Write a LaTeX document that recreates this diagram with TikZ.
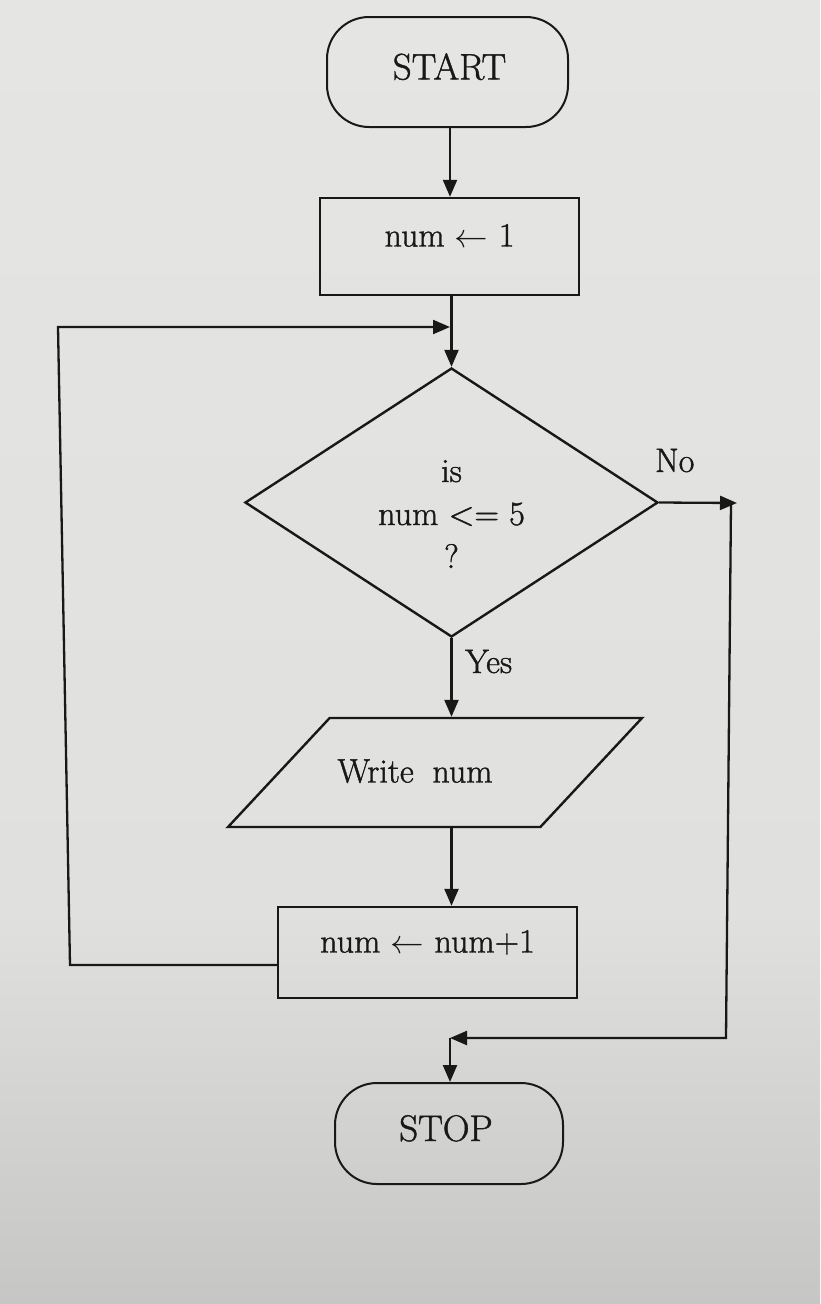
\documentclass[tikz,border=0pt]{standalone}
\usepackage{fontspec}
\usepackage{graphicx}
\setmainfont{Latin Modern Roman}[FakeBold=1.2]
\usetikzlibrary{shapes.geometric,arrows.meta}
\definecolor{ink}{RGB}{24,24,24}
\definecolor{bgtop}{RGB}{229,229,227}
\definecolor{bgmid}{RGB}{224,224,222}
\definecolor{bgbot}{RGB}{198,198,197}
\pgfdeclareverticalshading{bgshade}{100bp}{color(0bp)=(bgbot); color(25bp)=(bgbot); color(40bp)=(bgmid); color(75bp)=(bgtop); color(100bp)=(bgtop)}
\newcommand{\larr}{\raisebox{-1pt}{\scalebox{1.35}{$\leftarrow$}}}
\begin{document}
\begin{tikzpicture}[x=1pt,y=-1pt,
  every node/.style={font=\fontsize{34}{43}\selectfont, text=ink},
  shapebase/.style={draw=ink, line width=2.4pt, inner sep=0pt},
  term/.style={shapebase, line width=2pt, rectangle, rounded corners=42pt, font=\fontsize{37}{44}\selectfont, text height=25pt, text depth=10pt},
  procbox/.style={shapebase, rectangle, text height=20pt, text depth=20pt},
  decision/.style={shapebase, diamond, aspect=1.535, align=center, font=\fontsize{34}{43}\selectfont},
  iobox/.style={shapebase, trapezium, trapezium left angle=47, trapezium right angle=133, trapezium stretches body, text height=64.5pt, text depth=44.5pt},
  conn/.style={draw=ink, line width=2.3pt},
  arr/.style={conn, -{Triangle[length=17pt,width=14pt]}},
  lbl/.style={anchor=base west, inner sep=0pt}]
\shade[shading=bgshade] (0,0) rectangle (820,1304);
\useasboundingbox (0,0) rectangle (820,1304);

\node[term, minimum width=241pt, minimum height=110pt] (start) at (447.5,72) {\kern4pt START};
\node[procbox, minimum width=259pt, minimum height=97pt] (init) at (449.5,246.5) {num \larr\ 1};
\node[decision, minimum width=413pt, minimum height=269pt] (dec) at (451.5,502.5) {\rule{0pt}{45pt}is\\num <= 5\\?};
\node[iobox, minimum width=414pt, minimum height=109pt] (io) at (435,772.5) {Write\hspace{0.55em}num\rule{40pt}{0pt}};
\node[procbox, minimum width=299pt, minimum height=91pt] (inc) at (427.5,952.5) {num \larr\ num+1};
\node[term, minimum width=228pt, minimum height=101pt] (stop) at (449,1133.5) {STOP\kern6pt};

\coordinate (j1) at (450,327);
\coordinate (l1) at (58,327);
\coordinate (l2) at (70,965);
\coordinate (nohead) at (737,503);
\coordinate (r1) at (731,503);
\coordinate (r2) at (726,1038);
\coordinate (j2) at (450,1038);

\draw[arr] (start.south -| 450,0) -- (init.north -| 450,0);
\draw[arr] (init.south -| dec.north) -- (dec.north);
\draw[arr] (inc.west |- l2) -- (l2) -- (l1) -- (j1);
\draw[arr] (dec.east) -- (nohead);
\draw[arr] (r1) -- (r2) -- (j2);
\draw[arr] (j2) -- (j2 |- stop.north);
\draw[arr] (dec.south) -- (dec.south |- io.north);
\draw[arr] (dec.south |- io.south) -- (dec.south |- inc.north);

\node[lbl] (yes) at (465,673) {Yes};
\node[lbl] (no) at (655,472) {No};
\end{tikzpicture}
\end{document}
